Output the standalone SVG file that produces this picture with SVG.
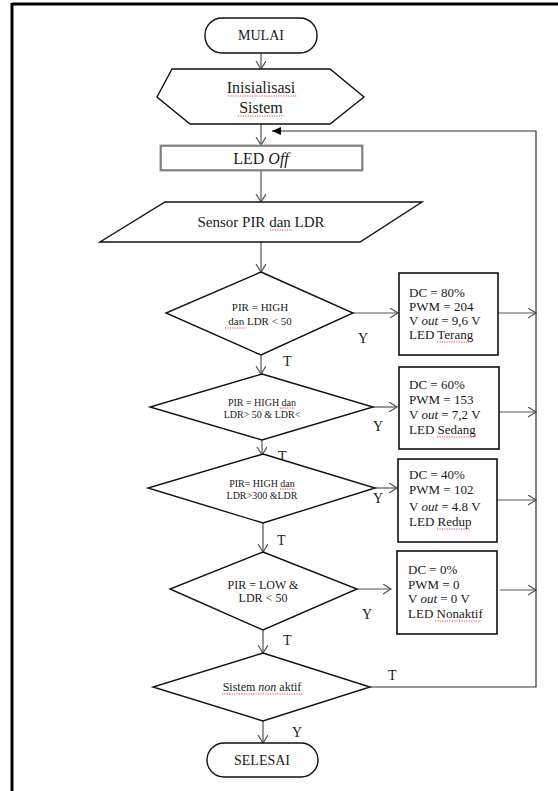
<svg xmlns="http://www.w3.org/2000/svg" width="558" height="791" viewBox="0 0 558 791">
<defs>
<marker id="open" markerWidth="10" markerHeight="12" refX="8" refY="5" orient="auto" markerUnits="userSpaceOnUse">
<path d="M0,0 L8,5 L0,10" fill="none" stroke="#555" stroke-width="1.2"/>
</marker>
<marker id="fill" markerWidth="10" markerHeight="10" refX="9" refY="4" orient="auto" markerUnits="userSpaceOnUse">
<path d="M0,0 L9,4 L0,8 Z" fill="#000"/>
</marker>
</defs>
<style>
text{font-family:"Liberation Serif","Times New Roman",serif;fill:#1a1a1a}
.c{text-anchor:middle}
.shape{fill:#fff;stroke:#111;stroke-width:1.4}
.box{fill:#fff;stroke:#111;stroke-width:1.6}
.flow{fill:none;stroke:#555;stroke-width:1.2;marker-end:url(#open)}
.line{fill:none;stroke:#333;stroke-width:1.2}
.sq{fill:none;stroke:#e03030;stroke-width:0.9;stroke-dasharray:1.2 1.2}
.lbl{font-size:14px}
.bt{font-size:13px}
</style>
<rect width="558" height="791" fill="#fff"/>
<g id="frame">
<line x1="12" y1="4" x2="558" y2="4" stroke="#000" stroke-width="3"/>
<line x1="12" y1="3" x2="12" y2="791" stroke="#000" stroke-width="3"/>
</g>
<g id="connectors">
<line class="flow" x1="261" y1="53" x2="261" y2="69"/>
<line class="flow" x1="261" y1="124" x2="261" y2="145"/>
<line class="flow" x1="261" y1="171" x2="261" y2="202"/>
<line class="flow" x1="261" y1="242" x2="261" y2="272"/>
<line class="flow" x1="261" y1="355" x2="261" y2="374"/>
<line class="flow" x1="262" y1="440" x2="262" y2="455"/>
<line class="flow" x1="263" y1="523" x2="263" y2="552"/>
<line class="flow" x1="263" y1="630" x2="263" y2="653"/>
<line class="flow" x1="263" y1="721" x2="263" y2="743"/>
<line class="flow" x1="353" y1="313" x2="398" y2="313"/>
<line class="flow" x1="373" y1="407" x2="397" y2="407"/>
<line class="flow" x1="375" y1="488" x2="397" y2="488"/>
<line class="flow" x1="357" y1="589" x2="391" y2="589"/>
<line class="flow" x1="498" y1="313" x2="536" y2="313"/>
<line class="flow" x1="499" y1="412" x2="536" y2="412"/>
<line class="flow" x1="497" y1="500" x2="536" y2="500"/>
<line class="flow" x1="500" y1="590" x2="536" y2="590"/>
<polyline class="line" points="370,687 536,687 536,131 272,131" marker-end="url(#fill)"/>
<text class="lbl" x="358" y="343">Y</text>
<text class="lbl" x="283" y="366">T</text>
<text class="lbl" x="373" y="431">Y</text>
<text class="lbl" x="278" y="461">T</text>
<text class="lbl" x="373" y="503">Y</text>
<text class="lbl" x="277" y="545">T</text>
<text class="lbl" x="362" y="619">Y</text>
<text class="lbl" x="283" y="645">T</text>
<text class="lbl" x="388" y="680">T</text>
<text class="lbl" x="292" y="737">Y</text>
</g>
<g id="mulai">
<rect class="shape" x="205" y="18" width="112" height="35" rx="17"/>
<text class="c" x="261" y="40" font-size="14">MULAI</text>
</g>
<g id="inisialisasi">
<polygon class="shape" points="157,97 172,69 330,69 364,97 330,124 190,124"/>
<text class="c" x="261" y="93" font-size="16">Inisialisasi</text>
<text class="c" x="261" y="113" font-size="16">Sistem</text>
<line class="sq" x1="228" y1="96" x2="297" y2="96"/>
<line class="sq" x1="238" y1="116" x2="284" y2="116"/>
</g>
<g id="led-off">
<rect x="160" y="145" width="203" height="26" fill="#fff" stroke="#999" stroke-width="1"/>
<rect x="161" y="146" width="201" height="24" fill="none" stroke="#333" stroke-width="1"/>
<text class="c" x="261" y="164" font-size="16">LED <tspan font-style="italic">Off</tspan></text>
</g>
<g id="sensor">
<polygon class="shape" points="165,202 422,202 360,242 100,242"/>
<text class="c" x="261" y="227" font-size="15">Sensor PIR dan LDR</text>
<line class="sq" x1="270" y1="230" x2="292" y2="230"/>
</g>
<g id="cond1">
<polygon class="shape" points="261,272 353,313 261,355 166,313"/>
<text class="c" x="260" y="311" font-size="11">PIR = HIGH</text>
<text class="c" x="260" y="325" font-size="11">dan LDR &lt; 50</text>
<line class="sq" x1="225" y1="328" x2="246" y2="328"/>
</g>
<g id="box1">
<rect class="box" x="399" y="273" width="99" height="82"/>
<text class="bt" x="409" y="297">DC = 80%</text>
<text class="bt" x="409" y="311">PWM = 204</text>
<text class="bt" x="409" y="325">V <tspan font-style="italic">out</tspan> = 9,6 V</text>
<text class="bt" x="409" y="339">LED Terang</text>
<line class="sq" x1="437" y1="342" x2="472" y2="342"/>
</g>
<g id="cond2">
<polygon class="shape" points="262,374 373,407 262,440 150,407"/>
<text class="c" x="262" y="406" font-size="10">PIR = HIGH dan</text>
<text class="c" x="262" y="418" font-size="10">LDR&gt; 50 &amp; LDR&lt;</text>
<line class="sq" x1="280" y1="408" x2="295" y2="408"/>
</g>
<g id="box2">
<rect class="box" x="399" y="367" width="100" height="82"/>
<text class="bt" x="409" y="389">DC = 60%</text>
<text class="bt" x="409" y="404">PWM = 153</text>
<text class="bt" x="409" y="419">V <tspan font-style="italic">out</tspan> = 7,2 V</text>
<text class="bt" x="409" y="434">LED Sedang</text>
<line class="sq" x1="437" y1="437" x2="476" y2="437"/>
</g>
<g id="cond3">
<polygon class="shape" points="263,454 375,488 263,523 148,488"/>
<text class="c" x="262" y="487" font-size="10">PIR= HIGH dan</text>
<text class="c" x="262" y="499" font-size="10">LDR&gt;300 &amp;LDR</text>
<line class="sq" x1="280" y1="489" x2="295" y2="489"/>
</g>
<g id="box3">
<rect class="box" x="398" y="459" width="99" height="83"/>
<text class="bt" x="409" y="479">DC = 40%</text>
<text class="bt" x="409" y="494">PWM = 102</text>
<text class="bt" x="409" y="511">V <tspan font-style="italic">out</tspan> = 4.8 V</text>
<text class="bt" x="409" y="526">LED Redup</text>
<line class="sq" x1="437" y1="529" x2="470" y2="529"/>
</g>
<g id="cond4">
<polygon class="shape" points="263,552 357,589 263,630 170,589"/>
<text class="c" x="263" y="589" font-size="12">PIR = LOW &amp;</text>
<text class="c" x="263" y="602" font-size="12">LDR &lt; 50</text>
</g>
<g id="box4">
<rect class="box" x="397" y="551" width="100" height="83"/>
<text class="bt" x="408" y="574">DC = 0%</text>
<text class="bt" x="408" y="589">PWM = 0</text>
<text class="bt" x="408" y="603">V <tspan font-style="italic">out</tspan> = 0 V</text>
<text class="bt" x="408" y="618">LED Nonaktif</text>
<line class="sq" x1="435" y1="621" x2="480" y2="621"/>
</g>
<g id="cond5">
<polygon class="shape" points="263,653 370,687 263,721 153,687"/>
<text class="c" x="262" y="691" font-size="12">Sistem <tspan font-style="italic">non</tspan> aktif</text>
<line class="sq" x1="222" y1="694" x2="303" y2="694"/>
</g>
<g id="selesai">
<rect class="shape" x="207" y="743" width="111" height="34" rx="17"/>
<text class="c" x="262" y="765" font-size="14">SELESAI</text>
</g>
</svg>
